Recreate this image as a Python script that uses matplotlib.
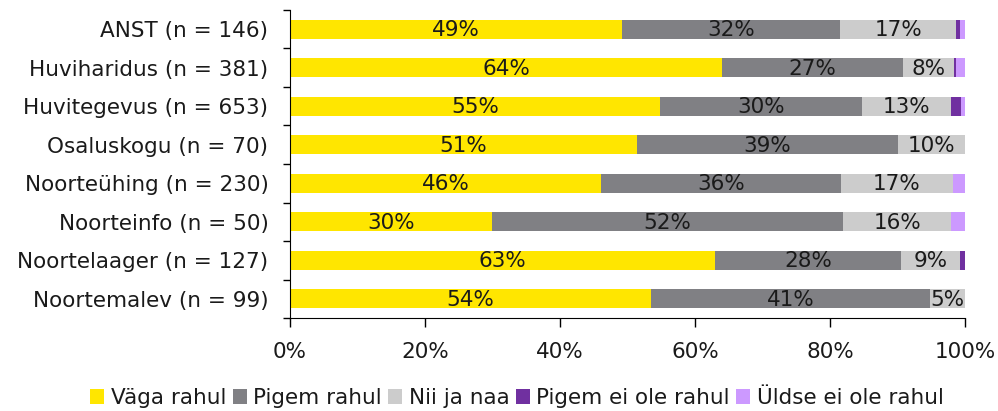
import matplotlib
matplotlib.use('Agg')
import matplotlib.pyplot as plt
import numpy as np

plt.rcParams['font.family'] = ['DejaVu Sans']

categories = ['ANST (n = 146)', 'Huviharidus (n = 381)', 'Huvitegevus (n = 653)',
              'Osaluskogu (n = 70)', 'Noorteühing (n = 230)', 'Noorteinfo (n = 50)',
              'Noortelaager (n = 127)', 'Noortemalev (n = 99)']
series_names = ['Väga rahul', 'Pigem rahul', 'Nii ja naa', 'Pigem ei ole rahul', 'Üldse ei ole rahul']
vaga = [49.2, 64.0, 54.8, 51.4, 46.1, 29.9, 63.0, 53.5]
pigem = [32.3, 26.8, 29.9, 38.7, 35.5, 52.0, 27.5, 41.3]
niija = [17.2, 7.6, 13.2, 9.9, 16.6, 16.1, 8.8, 5.2]
pigem_ei = [0.6, 0.2, 1.5, 0.0, 0.0, 0.0, 0.7, 0.0]
uldse = [0.7, 1.4, 0.6, 0.0, 1.8, 2.0, 0.0, 0.0]
colors = ['#FFE600', '#808084', '#CCCCCC', '#7030A0', '#CC99FF']

data = [vaga, pigem, niija, pigem_ei, uldse]
fs = 15.5
txt = '#1a1a1a'

fig, ax = plt.subplots(figsize=(9.98, 4.11), dpi=100)
fig.subplots_adjust(left=290/998, right=965/998, top=1-10/411, bottom=1-318/411)

y = np.arange(len(categories))[::-1]
left = np.zeros(len(categories))
for i, vals in enumerate(data):
    vals = np.array(vals)
    ax.barh(y, vals, left=left, height=0.5, color=colors[i], label=series_names[i])
    if i < 3:
        for yy, l, v in zip(y, left, vals):
            ax.text(l + v / 2, yy - 0.03, '%d%%' % round(v), ha='center', va='center',
                    fontsize=fs, color=txt)
    left = left + vals

ax.set_xlim(0, 100)
ax.set_ylim(-0.5, len(categories) - 0.5)
ax.set_xticks([0, 20, 40, 60, 80, 100])
ax.set_xticklabels(['0%', '20%', '40%', '60%', '80%', '100%'], fontsize=fs, color=txt)
ax.tick_params(axis='x', length=6.5, width=1, pad=11)
ax.set_yticks(y)
ax.set_yticklabels(categories, fontsize=fs, color=txt)
ax.tick_params(axis='y', which='major', length=0, pad=15.5)
ax.set_yticks(np.arange(len(categories) + 1) - 0.5, minor=True)
ax.tick_params(axis='y', which='minor', length=5, width=1)
for s in ['top', 'right']:
    ax.spines[s].set_visible(False)

leg = fig.legend(loc='center', bbox_to_anchor=(517/998, 1-398/411), ncol=5, frameon=False,
                 fontsize=fs, handlelength=0.65, handleheight=0.65, handletextpad=0.3,
                 columnspacing=0.3, borderpad=0, borderaxespad=0)
for t in leg.get_texts():
    t.set_color(txt)

plt.savefig('out.png', dpi=100)
